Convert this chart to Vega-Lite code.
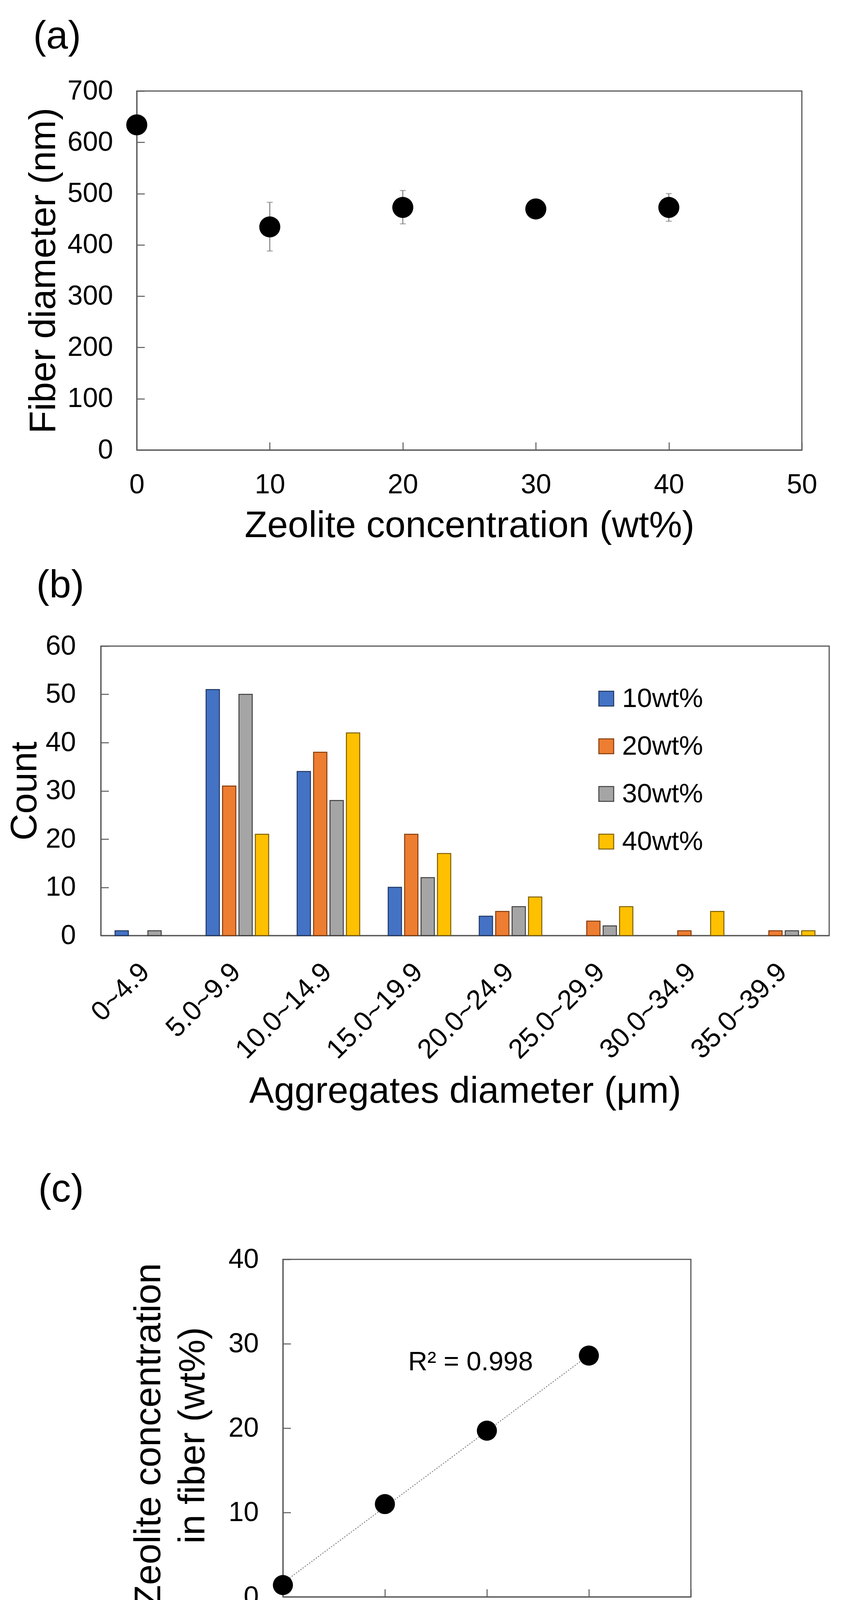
{
  "$schema": "https://vega.github.io/schema/vega-lite/v6.json",
  "background": "white",
  "padding": {"top": 42, "left": 0, "right": 0, "bottom": 0},
  "spacing": 53,
  "resolve": {
    "scale": {"color": "independent", "stroke": "independent"},
    "legend": {"color": "independent", "stroke": "independent"}
  },
  "config": {
    "font": "Liberation Sans",
    "view": {"stroke": "#595959", "strokeWidth": 3},
    "axis": {
      "grid": false,
      "domainColor": "#595959",
      "domainWidth": 3,
      "tickColor": "#595959",
      "tickWidth": 2.5,
      "tickSize": -20,
      "labelColor": "#000000",
      "labelFont": "Liberation Sans",
      "labelFontSize": 70,
      "labelLimit": 0,
      "labelFlush": false,
      "labelOverlap": false,
      "labelBound": false,
      "titleColor": "#000000",
      "titleFont": "Liberation Sans",
      "titleFontSize": 95,
      "titleFontWeight": "normal",
      "titleLimit": 0,
      "titleBaseline": "alphabetic",
      "titleAlign": "center"
    },
    "legend": {
      "labelFont": "Liberation Sans",
      "labelFontSize": 69,
      "labelColor": "#000000",
      "labelLimit": 0,
      "symbolType": "square",
      "symbolSize": 1444,
      "symbolStrokeWidth": 2.5,
      "padding": 0,
      "rowPadding": 52,
      "labelOffset": 6
    },
    "title": {"font": "Liberation Sans", "fontSize": 100, "fontWeight": "normal", "color": "#000000"}
  },
  "vconcat": [
    {
      "spacing": 0,
      "hconcat": [
        {"width": 62, "height": 10, "data": {"values": []}, "mark": "point", "encoding": {}, "view": {"stroke": null}},
        {
          "width": 1702,
          "height": 919,
          "title": {"text": "(a)", "anchor": "start", "frame": "group", "dx": -265, "offset": -26, "baseline": "alphabetic"},
          "data": {
            "values": [
              {"conc": 0, "diameter": 634, "lo": 619, "hi": 649},
              {"conc": 10, "diameter": 435, "lo": 388, "hi": 483},
              {"conc": 20, "diameter": 473, "lo": 441, "hi": 506},
              {"conc": 30, "diameter": 470, "lo": 456, "hi": 484},
              {"conc": 40, "diameter": 473, "lo": 446, "hi": 500}
            ]
          },
          "encoding": {
            "x": {
              "field": "conc",
              "type": "quantitative",
              "scale": {"domain": [0, 50], "nice": false},
              "axis": {"values": [0, 10, 20, 30, 40, 50], "labelPadding": 75, "title": "Zeolite concentration (wt%)", "titleX": 851, "titleY": 222}
            }
          },
          "layer": [
            {
              "mark": {"type": "rule", "color": "#7f7f7f", "strokeWidth": 2.5},
              "encoding": {
                "y": {
                  "field": "lo",
                  "type": "quantitative",
                  "scale": {"domain": [0, 700], "nice": false},
                  "axis": {"values": [0, 100, 200, 300, 400, 500, 600, 700], "labelPadding": 81, "title": "Fiber diameter (nm)", "titleX": -210, "titleY": 459.5}
                },
                "y2": {"field": "hi"}
              }
            },
            {
              "mark": {"type": "tick", "orient": "horizontal", "size": 15, "thickness": 2.5, "color": "#7f7f7f"},
              "encoding": {"y": {"field": "lo", "type": "quantitative", "title": "Fiber diameter (nm)"}}
            },
            {
              "mark": {"type": "tick", "orient": "horizontal", "size": 15, "thickness": 2.5, "color": "#7f7f7f"},
              "encoding": {"y": {"field": "hi", "type": "quantitative", "title": "Fiber diameter (nm)"}}
            },
            {
              "mark": {"type": "circle", "size": 2900, "color": "#000000", "opacity": 1},
              "encoding": {"y": {"field": "diameter", "type": "quantitative", "title": "Fiber diameter (nm)"}}
            }
          ]
        }
      ]
    },
    {
      "spacing": 0,
      "resolve": {
        "scale": {"color": "independent", "stroke": "independent"},
        "legend": {"color": "independent", "stroke": "independent"}
      },
      "hconcat": [
        {"width": 14, "height": 10, "data": {"values": []}, "mark": "point", "encoding": {}, "view": {"stroke": null}},
        {
          "width": 1864,
          "height": 741,
          "title": {"text": "(b)", "anchor": "start", "frame": "group", "dx": -165, "offset": -11, "baseline": "alphabetic"},
          "data": {
            "values": [
              {"range": "0~4.9", "series": "10wt%", "count": 1},
              {"range": "0~4.9", "series": "30wt%", "count": 1},
              {"range": "5.0~9.9", "series": "10wt%", "count": 51},
              {"range": "5.0~9.9", "series": "20wt%", "count": 31},
              {"range": "5.0~9.9", "series": "30wt%", "count": 50},
              {"range": "5.0~9.9", "series": "40wt%", "count": 21},
              {"range": "10.0~14.9", "series": "10wt%", "count": 34},
              {"range": "10.0~14.9", "series": "20wt%", "count": 38},
              {"range": "10.0~14.9", "series": "30wt%", "count": 28},
              {"range": "10.0~14.9", "series": "40wt%", "count": 42},
              {"range": "15.0~19.9", "series": "10wt%", "count": 10},
              {"range": "15.0~19.9", "series": "20wt%", "count": 21},
              {"range": "15.0~19.9", "series": "30wt%", "count": 12},
              {"range": "15.0~19.9", "series": "40wt%", "count": 17},
              {"range": "20.0~24.9", "series": "10wt%", "count": 4},
              {"range": "20.0~24.9", "series": "20wt%", "count": 5},
              {"range": "20.0~24.9", "series": "30wt%", "count": 6},
              {"range": "20.0~24.9", "series": "40wt%", "count": 8},
              {"range": "25.0~29.9", "series": "20wt%", "count": 3},
              {"range": "25.0~29.9", "series": "30wt%", "count": 2},
              {"range": "25.0~29.9", "series": "40wt%", "count": 6},
              {"range": "30.0~34.9", "series": "20wt%", "count": 1},
              {"range": "30.0~34.9", "series": "40wt%", "count": 5},
              {"range": "35.0~39.9", "series": "20wt%", "count": 1},
              {"range": "35.0~39.9", "series": "30wt%", "count": 1},
              {"range": "35.0~39.9", "series": "40wt%", "count": 1}
            ]
          },
          "mark": {"type": "bar", "strokeWidth": 2.5},
          "encoding": {
            "x": {
              "field": "range",
              "type": "nominal",
              "scale": {
                "domain": ["0~4.9", "5.0~9.9", "10.0~14.9", "15.0~19.9", "20.0~24.9", "25.0~29.9", "30.0~34.9", "35.0~39.9"],
                "paddingInner": 0.313,
                "paddingOuter": 0.1565
              },
              "axis": {
                "ticks": false,
                "tickSize": 0,
                "labelAngle": -45,
                "labelPadding": 58,
                "labelOffset": -27,
                "title": ["Aggregates diameter (μm)", ""],
                "titleLineHeight": 98,
                "titleX": 932,
                "titleY": 427
              }
            },
            "xOffset": {
              "field": "series",
              "type": "nominal",
              "scale": {"domain": ["10wt%", "20wt%", "30wt%", "40wt%"], "paddingInner": 0.19, "paddingOuter": 0}
            },
            "y": {
              "field": "count",
              "type": "quantitative",
              "scale": {"domain": [0, 60], "nice": false},
              "axis": {"values": [0, 10, 20, 30, 40, 50, 60], "labelPadding": 84, "title": "Count", "titleX": -166, "titleY": 370.5}
            },
            "color": {
              "field": "series",
              "type": "nominal",
              "scale": {"domain": ["10wt%", "20wt%", "30wt%", "40wt%"], "range": ["#4472C4", "#ED7D31", "#A5A5A5", "#FFC000"]},
              "legend": {"title": null, "orient": "none", "legendX": 1259, "legendY": 100, "direction": "vertical"}
            },
            "stroke": {
              "field": "series",
              "type": "nominal",
              "scale": {"domain": ["10wt%", "20wt%", "30wt%", "40wt%"], "range": ["#203864", "#843C0C", "#404040", "#7F6000"]},
              "legend": {"title": null, "orient": "none", "legendX": 1259, "legendY": 100, "direction": "vertical"}
            }
          }
        }
      ]
    },
    {
      "spacing": 0,
      "hconcat": [
        {"width": 96, "height": 10, "data": {"values": []}, "mark": "point", "encoding": {}, "view": {"stroke": null}},
        {
          "width": 1044,
          "height": 864,
          "title": {"text": "(c)", "anchor": "start", "frame": "group", "dx": -626, "offset": 13, "baseline": "alphabetic"},
          "layer": [
            {
              "data": {"values": [{"feed": 0, "fiber": 1.65}, {"feed": 30, "fiber": 28.65}]},
              "mark": {"type": "line", "color": "#808080", "strokeWidth": 2.5, "strokeDash": [3, 4]},
              "encoding": {
                "x": {
                  "field": "feed",
                  "type": "quantitative",
                  "scale": {"domain": [0, 40], "nice": false},
                  "axis": {"values": [0, 10, 20, 30, 40], "labelPadding": 72, "title": "Zeolite concentration in feed (wt%)", "titleX": 573, "titleY": 252}
                },
                "y": {
                  "field": "fiber",
                  "type": "quantitative",
                  "scale": {"domain": [0, 40], "nice": false},
                  "axis": {"values": [0, 10, 20, 30, 40], "labelPadding": 82, "title": ["Zeolite concentration", "in fiber (wt%)"], "titleLineHeight": 113, "titleX": -315, "titleY": 450}
                }
              }
            },
            {
              "data": {
                "values": [
                  {"feed": 0, "fiber": 1.4},
                  {"feed": 10, "fiber": 11.0},
                  {"feed": 20, "fiber": 19.7},
                  {"feed": 30, "fiber": 28.6}
                ]
              },
              "mark": {"type": "circle", "size": 2640, "color": "#000000", "opacity": 1},
              "encoding": {
                "x": {"field": "feed", "type": "quantitative", "title": "Zeolite concentration in feed (wt%)"},
                "y": {"field": "fiber", "type": "quantitative", "title": ["Zeolite concentration", "in fiber (wt%)"]}
              }
            },
            {
              "data": {"values": [{"feed": 18.4, "fiber": 27.8, "label": "R² = 0.998"}]},
              "mark": {"type": "text", "font": "Liberation Sans", "fontSize": 68, "align": "center", "baseline": "middle", "color": "#000000"},
              "encoding": {
                "x": {"field": "feed", "type": "quantitative", "title": "Zeolite concentration in feed (wt%)"},
                "y": {"field": "fiber", "type": "quantitative", "title": ["Zeolite concentration", "in fiber (wt%)"]},
                "text": {"field": "label"}
              }
            }
          ]
        }
      ]
    }
  ]
}
